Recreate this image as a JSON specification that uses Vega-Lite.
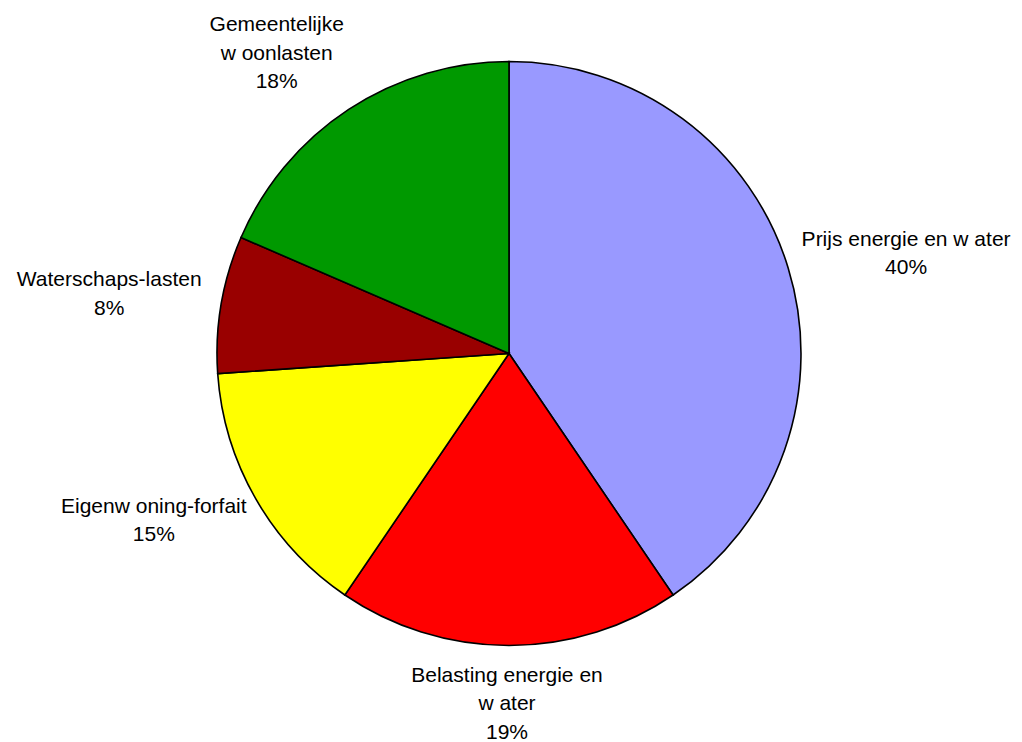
{
  "$schema": "https://vega.github.io/schema/vega-lite/v6.json",
  "width": 1018,
  "height": 707,
  "autosize": {"type": "none"},
  "padding": {"left": 0, "top": 0, "right": 4, "bottom": 35},
  "background": "white",
  "config": {"view": {"stroke": null}},
  "data": {
    "values": [
      {"i": 1, "name": "Prijs energie en water", "label": "Prijs energie en w ater\n40%", "value": 40.5, "color": "#9999FF"},
      {"i": 2, "name": "Belasting energie en water", "label": "Belasting energie en\nw ater\n19%", "value": 19.0, "color": "#FF0000"},
      {"i": 3, "name": "Eigenwoning-forfait", "label": "Eigenw oning-forfait\n15%", "value": 14.4, "color": "#FFFF00"},
      {"i": 4, "name": "Waterschaps-lasten", "label": "Waterschaps-lasten\n8%", "value": 7.6, "color": "#990000"},
      {"i": 5, "name": "Gemeentelijke woonlasten", "label": "Gemeentelijke\nw oonlasten\n18%", "value": 18.5, "color": "#009900"}
    ]
  },
  "encoding": {
    "theta": {"field": "value", "type": "quantitative", "stack": true},
    "order": {"field": "i", "type": "quantitative"}
  },
  "layer": [
    {
      "mark": {"type": "arc", "radius": 292, "stroke": "black", "strokeWidth": 1.6},
      "encoding": {
        "color": {"field": "color", "type": "nominal", "scale": null, "legend": null}
      }
    },
    {
      "mark": {
        "type": "text",
        "radius": 292,
        "font": "Liberation Sans",
        "fontSize": 21,
        "lineHeight": 28.5,
        "lineBreak": "\n",
        "align": "center",
        "baseline": "middle",
        "color": "black",
        "dx": {"expr": "datum.i == 1 ? 118 : datum.i == 2 ? -2 : datum.i == 3 ? -102 : datum.i == 4 ? -112 : -72"},
        "dy": {"expr": "datum.i == 1 ? -28 : datum.i == 2 ? 30 : datum.i == 3 ? 8 : datum.i == 4 ? -24 : -84"}
      },
      "encoding": {
        "text": {"field": "label", "type": "nominal"}
      }
    }
  ]
}
